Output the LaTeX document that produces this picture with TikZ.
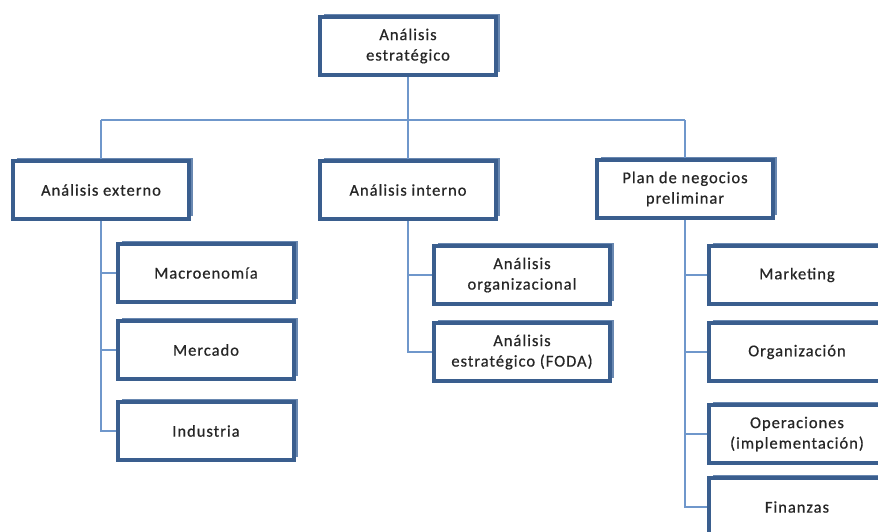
\documentclass[tikz,border=0pt]{standalone}
\usepackage{fontspec}
\setmainfont[LetterSpace=6,FakeBold=0.6]{Carlito}
\usetikzlibrary{shadows}
\definecolor{boxblue}{HTML}{3A5E8E}
\definecolor{shadowblue}{HTML}{4F73A3}
\definecolor{lineblue}{HTML}{6F97CB}
\tikzset{
  box/.style={draw=boxblue, line width=3.5pt, fill=white, minimum width=176pt, minimum height=58pt,
    align=center, font=\fontsize{16.5}{20.5}\selectfont, text=black!85, inner sep=2pt,
    drop shadow={shadow xshift=3.5pt, shadow yshift=3pt, fill=shadowblue, opacity=0.85}},
  conn/.style={draw=lineblue, line width=1.4pt}
}
\begin{document}
\begin{tikzpicture}[x=1pt,y=-1pt]
\useasboundingbox (0,0) rectangle (878,531);
\node[box] (top) at (408,46) {Análisis\\estratégico};
\node[box] (ext) at (101,190) {Análisis externo};
\node[box] (int) at (408,190) {Análisis interno};
\node[box] (plan) at (685,189) {Plan de negocios\\preliminar};
\node[box] (macro) at (206,273) {Macroenomía};
\node[box] (merc) at (206,350) {Mercado};
\node[box] (ind) at (206,431) {Industria};
\node[box] (org) at (522,275) {Análisis\\organizacional};
\node[box] (foda) at (522,352) {Análisis\\estratégico (FODA)};
\node[box] (mkt) at (797,275) {Marketing};
\node[box] (orgz) at (797,352) {Organización};
\node[box] (oper) at (797,434) {Operaciones\\(implementación)};
\node[box] (fin) at (797,507) {Finanzas};
\coordinate (busL) at (101,120);
\coordinate (busR) at (685,120);
\draw[conn] (busL) -- (busR);
\draw[conn] (top.south) -- (top.south |- busL);
\draw[conn] (ext.north) -- (ext.north |- busL);
\draw[conn] (int.north) -- (int.north |- busL);
\draw[conn] (plan.north) -- (plan.north |- busL);
\draw[conn] (ext.south) |- (macro.west);
\draw[conn] (ext.south) |- (merc.west);
\draw[conn] (ext.south) |- (ind.west);
\draw[conn] (int.south) |- (org.west);
\draw[conn] (int.south) |- (foda.west);
\draw[conn] (plan.south) |- (mkt.west);
\draw[conn] (plan.south) |- (orgz.west);
\draw[conn] (plan.south) |- (oper.west);
\draw[conn] (plan.south) |- (fin.west);
\end{tikzpicture}
\end{document}
